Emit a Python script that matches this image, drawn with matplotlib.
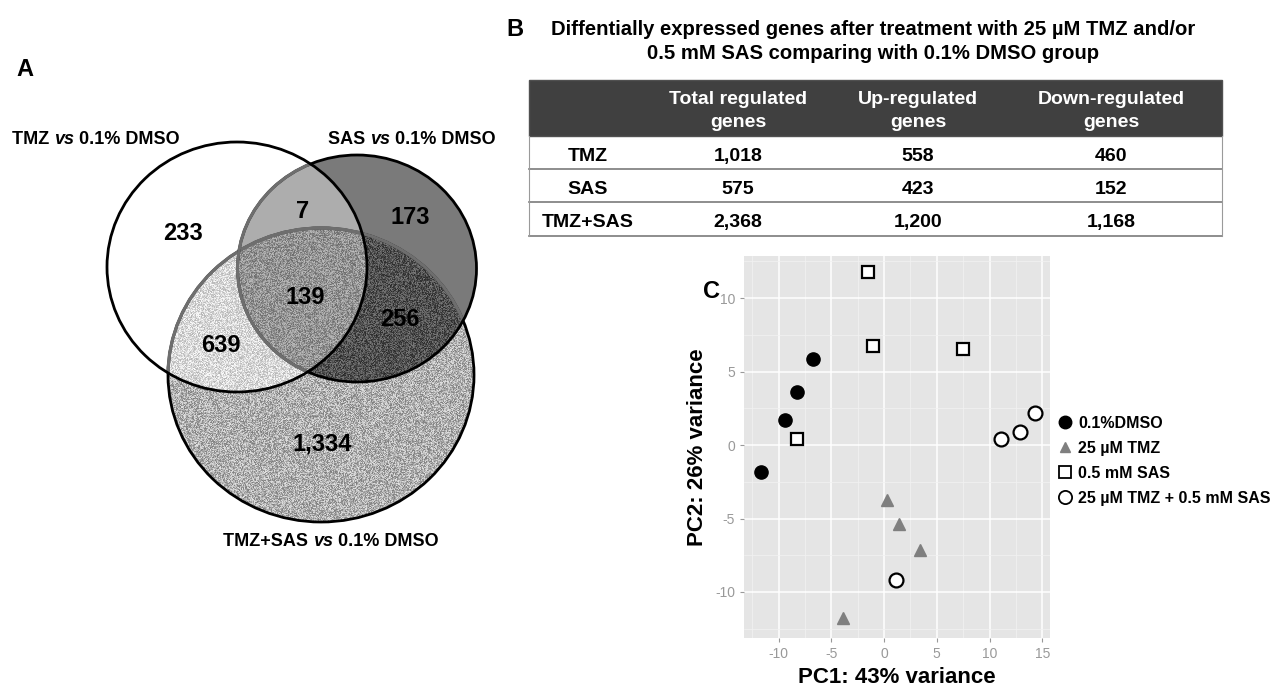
import numpy as np
import matplotlib
matplotlib.use("Agg")
import matplotlib.pyplot as plt
from matplotlib.patches import Ellipse, Rectangle
from matplotlib.lines import Line2D

plt.rcParams['font.family'] = ['Liberation Sans', 'DejaVu Sans']
plt.rcParams['axes.unicode_minus'] = False

# ---------------- data ----------------
# Venn (A)
venn_set_names = ["TMZ", "SAS", "TMZ+SAS"]
venn_region_keys = ["TMZ", "SAS", "TMZ+SAS", "TMZ&SAS", "TMZ&TMZ+SAS", "SAS&TMZ+SAS", "all"]
venn_region_counts = [233, 173, 1334, 7, 639, 256, 139]

# Table (B)
table_title = ["Diffentially expressed genes after treatment with 25 \u00b5M TMZ and/or",
               "0.5 mM SAS comparing with 0.1% DMSO group"]
table_columns = [("Total regulated", "genes"), ("Up-regulated", "genes"), ("Down-regulated", "genes")]
table_rows = ["TMZ", "SAS", "TMZ+SAS"]
total_genes = [1018, 575, 2368]
up_genes = [558, 423, 1200]
down_genes = [460, 152, 1168]

# PCA (C)
groups = ["0.1%DMSO", "25 \u00b5M TMZ", "0.5 mM SAS", "25 \u00b5M TMZ + 0.5 mM SAS"]
dmso_pc1 = [-6.7, -8.2, -9.4, -11.7]
dmso_pc2 = [5.85, 3.6, 1.7, -1.85]
tmz_pc1 = [0.25, 1.4, 3.4, -3.9]
tmz_pc2 = [-3.75, -5.4, -7.15, -11.75]
sas_pc1 = [-1.55, -1.05, 7.5, -8.2]
sas_pc2 = [11.8, 6.75, 6.5, 0.4]
combo_pc1 = [1.15, 11.05, 12.9, 14.3]
combo_pc2 = [-9.2, 0.4, 0.9, 2.2]

W, H = 1279, 689
fig = plt.figure(figsize=(W / 100, H / 100), dpi=100)
ov = fig.add_axes([0, 0, 1, 1])
ov.set_xlim(0, W)
ov.set_ylim(H, 0)
ov.axis('off')
renderer = fig.canvas.get_renderer()

# ---------------- Venn ----------------
circ = {  # centre x, centre y, width, height (pixels)
    "TMZ": (237, 267, 260, 250),
    "SAS": (357, 268.5, 239, 227),
    "TMZ+SAS": (321, 375, 306, 294),
}
x0, x1, y0, y1 = 95, 490, 130, 535
xs = np.arange(x0, x1) + 0.5
ys = np.arange(y0, y1) + 0.5
X, Y = np.meshgrid(xs, ys)


def inside(name):
    cx, cy, w, h = circ[name]
    return ((X - cx) / (w / 2)) ** 2 + ((Y - cy) / (h / 2)) ** 2 <= 1


mT, mS, mC = inside("TMZ"), inside("SAS"), inside("TMZ+SAS")
# deterministic speckle texture (shader-style hash)
I, J = np.meshgrid(np.arange(xs.size), np.arange(ys.size))
hsh = np.sin(I * 12.9898 + J * 78.233) * 43758.5453
hsh = hsh - np.floor(hsh)
speck = (hsh - 0.5) * 0.40

gray = np.ones(X.shape)
alpha = np.zeros(X.shape)
alpha[mT | mS | mC] = 1
gray[mS & ~mT & ~mC] = 0.48
gray[mS & mT & ~mC] = 0.68
gray[mC & ~mT & ~mS] = 0.69 + speck[mC & ~mT & ~mS]
gray[mC & mT & ~mS] = 0.85 + speck[mC & mT & ~mS] * 0.7
gray[mC & mT & mS] = 0.58 + speck[mC & mT & mS] * 0.8
gray[mC & mS & ~mT] = 0.32 + speck[mC & mS & ~mT] * 0.8
gray = np.clip(gray, 0, 1)
img = np.dstack([gray, gray, gray, alpha])
ov.imshow(img, extent=(x0, x1, y1, y0), interpolation='bilinear', zorder=1)


def ell(name, **kw):
    cx, cy, w, h = circ[name]
    return Ellipse((cx, cy), w, h, transform=ov.transData, **kw)


LW = 2.0
ov.add_patch(ell("TMZ+SAS", fill=False, ec='black', lw=LW, zorder=2))
for clipname in ["TMZ", "SAS"]:
    p = ell("TMZ+SAS", fill=False, ec='#6e6e6e', lw=LW + 0.3, zorder=3)
    ov.add_patch(p)
    p.set_clip_path(ell(clipname))
ov.add_patch(ell("SAS", fill=False, ec='black', lw=LW, zorder=4))
p = ell("SAS", fill=False, ec='#6e6e6e', lw=LW + 0.3, zorder=5)
ov.add_patch(p)
p.set_clip_path(ell("TMZ"))
ov.add_patch(ell("TMZ", fill=False, ec='black', lw=LW, zorder=6))

region_pos = {"TMZ": (183, 239.5), "SAS": (410, 223.5), "TMZ+SAS": (322, 450.5),
              "TMZ&SAS": (303, 218.5), "TMZ&TMZ+SAS": (221, 352.5),
              "SAS&TMZ+SAS": (400, 326.5), "all": (305, 304.5)}
for key, cnt in zip(venn_region_keys, venn_region_counts):
    px, py = region_pos[key]
    ov.text(px, py, f"{cnt:,}", ha='center', va='baseline', fontsize=17,
            fontweight='bold', zorder=10)


def mixed(x, y, parts, size):
    prev = ov.text(x, y, parts[0][0], fontsize=size, fontweight='bold',
                   style=parts[0][1], ha='left', va='baseline', zorder=10)
    for s, st in parts[1:]:
        prev = ov.annotate(s, xy=(1, 0), xycoords=prev, ha='left', va='bottom',
                           fontsize=size, fontweight='bold', style=st, zorder=10)


label_pos = [(12, 144), (328, 144), (223, 546)]
for name, (lx, ly) in zip(venn_set_names, label_pos):
    mixed(lx, ly, [(name + " ", 'normal'), ("vs", 'italic'), (" 0.1% DMSO", 'normal')], 13)

ov.text(16, 76, "A", fontsize=17, fontweight='bold', ha='left', va='baseline')
ov.text(506, 36, "B", fontsize=17, fontweight='bold', ha='left', va='baseline')
ov.text(703, 298, "C", fontsize=17, fontweight='bold', ha='left', va='baseline')


# ---------------- Table ----------------
def fit_size(s, target_w, base=14.0):
    t = ov.text(0, 0, s, fontsize=base, fontweight='bold')
    w = t.get_window_extent(renderer).width
    t.remove()
    return base * target_w / w


title_fs = fit_size(table_title[0], 647)
TFS = 14

tx0, tx1 = 529, 1222
ov.text(873, 35, table_title[0], ha='center', va='baseline', fontsize=title_fs,
        fontweight='bold')
ov.text(873, 59, table_title[1], ha='center', va='baseline', fontsize=title_fs,
        fontweight='bold')
ov.add_patch(Rectangle((tx0, 80), tx1 - tx0, 56, fc='#404040', ec='#505050', lw=1, zorder=2))
for yy in [169, 202, 236]:
    ov.plot([tx0, tx1], [yy, yy], color='#7a7a7a', lw=1.2, zorder=3)
for xx in [tx0, tx1]:
    ov.plot([xx, xx], [136, 236], color='#9a9a9a', lw=0.8, zorder=3)
col_x = [738, 918, 1111]
for cx, (l1, l2) in zip(col_x, table_columns):
    ov.text(cx, 104, l1, ha='center', va='baseline', color='white', fontsize=TFS,
            fontweight='bold', zorder=4)
    ov.text(cx, 127, l2, ha='center', va='baseline', color='white', fontsize=TFS,
            fontweight='bold', zorder=4)
row_base = [161, 194, 227]
for r, name in enumerate(table_rows):
    ov.text(588, row_base[r], name, ha='center', va='baseline', fontsize=TFS,
            fontweight='bold', zorder=4)
    for cx, vals in zip(col_x, [total_genes, up_genes, down_genes]):
        ov.text(cx, row_base[r], f"{vals[r]:,}", ha='center', va='baseline', fontsize=TFS,
                fontweight='bold', zorder=4)

# ---------------- PCA ----------------
al, ar, at, ab = 744, 1050, 256, 638
ax = fig.add_axes([al / W, 1 - ab / H, (ar - al) / W, (ab - at) / H])
ax.set_facecolor('#e5e5e5')
ax.set_xlim(-13.27, 15.73)
ax.set_ylim(-13.13, 12.86)
for s in ax.spines.values():
    s.set_visible(False)
ax.set_xticks([-10, -5, 0, 5, 10, 15])
ax.set_yticks([-10, -5, 0, 5, 10])
ax.set_xticks([-12.5, -7.5, -2.5, 2.5, 7.5, 12.5], minor=True)
ax.set_yticks([-12.5, -7.5, -2.5, 2.5, 7.5, 12.5], minor=True)
ax.grid(True, which='major', color='white', lw=1.1)
ax.grid(True, which='minor', color='#f2f2f2', lw=0.5)
ax.set_axisbelow(True)
ax.tick_params(which='major', colors='#999999', labelsize=10, length=3, width=0.8,
               labelcolor='#999999')
ax.tick_params(which='minor', length=0)

ms = dict(linestyle='none', zorder=3)
ax.plot(dmso_pc1, dmso_pc2, marker='o', ms=9.5, mfc='black', mec='black', **ms)
ax.plot(tmz_pc1, tmz_pc2, marker='^', ms=8.5, mfc='#7f7f7f', mec='#7f7f7f', **ms)
ax.plot(sas_pc1, sas_pc2, marker='s', ms=9, mfc='white', mec='black', mew=1.6, **ms)
ax.plot(combo_pc1, combo_pc2, marker='o', ms=10, mfc='white', mec='black', mew=1.6, **ms)

ax.set_xlabel("PC1: 43% variance", fontsize=16, fontweight='bold')
ax.set_ylabel("PC2: 26% variance", fontsize=16, fontweight='bold')
ax.xaxis.set_label_coords(0.5, -0.077)
ax.yaxis.set_label_coords(-0.118, 0.5)

handles = [
    Line2D([], [], marker='o', ms=9, mfc='black', mec='black', ls='none'),
    Line2D([], [], marker='^', ms=7.5, mfc='#7f7f7f', mec='#7f7f7f', ls='none'),
    Line2D([], [], marker='s', ms=9, mfc='white', mec='black', mew=1.3, ls='none'),
    Line2D([], [], marker='o', ms=9.5, mfc='white', mec='black', mew=1.3, ls='none'),
]
leg = ax.legend(handles, groups, loc='upper left', bbox_to_anchor=(1058 / W, 1 - 416 / H),
                bbox_transform=fig.transFigure, frameon=False, handlelength=0.9,
                handletextpad=0.35, labelspacing=0.62, borderpad=0, borderaxespad=0,
                prop={'size': 11.5, 'weight': 'bold'})

fig.savefig("out.png", dpi=100)
